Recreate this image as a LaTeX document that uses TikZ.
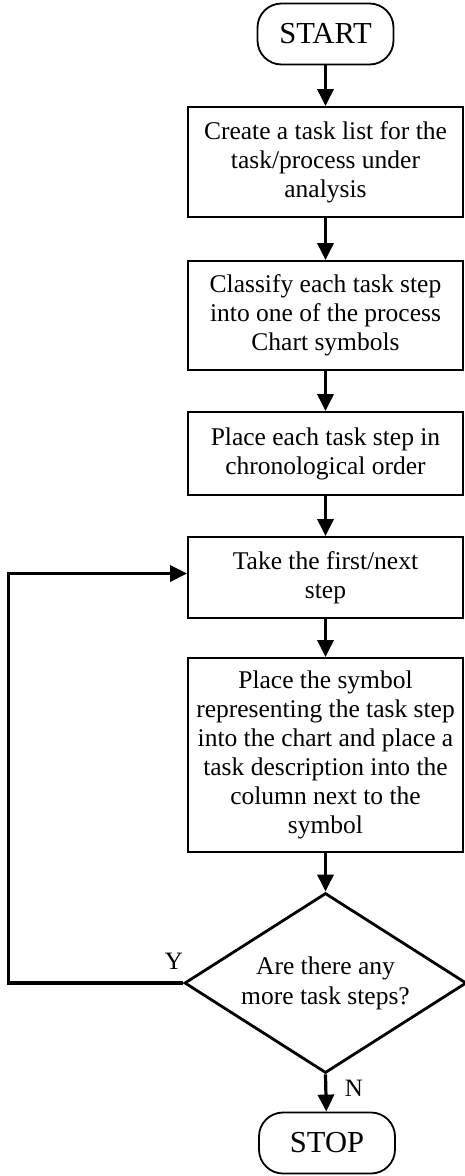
\documentclass[tikz,border=0pt]{standalone}
\usepackage{fontspec}
\setmainfont{Liberation Serif}
\usetikzlibrary{shapes.geometric,arrows.meta,calc}
\begin{document}
\begin{tikzpicture}[x=1pt,y=-1pt,
  every node/.style={inner sep=0pt},
  stepbox/.style={draw,line width=1.8pt,minimum width=275pt,align=center,
    font=\fontsize{25.5}{29}\selectfont},
  term/.style={draw,line width=1.8pt,rounded corners=24pt,minimum width=136pt,
    minimum height=61pt,font=\fontsize{30.5}{34}\selectfont},
  flow/.style={line width=3.2pt,-{Triangle[length=17pt,width=16pt]}},
  lbl/.style={font=\fontsize{25}{28}\selectfont}]
\useasboundingbox (0,0) rectangle (465,1176);

% terminals
\node[term] (start) at (325.5,34) {START};
\node[term] (stop)  at (327,1143) {STOP};

% process steps
\node[stepbox,minimum height=110pt] (b1) at (325.5,162)
  {Create a task list for the\\task/process under\\analysis};
\node[stepbox,minimum height=109pt] (b2) at (325.5,315.5)
  {Classify each task step\\into one of the process\\Chart symbols};
\node[stepbox,minimum height=83pt] (b3) at (325.5,453.5)
  {Place each task step in\\chronological order};
\node[stepbox,minimum height=81pt] (b4) at (325.5,577.5)
  {Take the first/next\\step};
\node[stepbox,minimum height=194pt] (b5) at (325.5,755)
  {Place the symbol\\representing the task step\\into the chart and place a\\task description into the\\column next to the\\symbol};

% decision
\node[draw,diamond,aspect=1.55,minimum width=282pt,minimum height=180pt,
  line width=2.8pt,align=center,font=\fontsize{25.5}{30}\selectfont] (dec) at (325.5,983)
  {Are there any\\more task steps?};

% connectors
\draw[flow] (start) -- (b1);
\draw[flow] (b1) -- (b2);
\draw[flow] (b2) -- (b3);
\draw[flow] (b3) -- (b4);
\draw[flow] (b4) -- (b5);
\draw[flow] (b5) -- (dec);
\draw[flow] (dec.south) -- (stop);
\draw[flow] (dec.west) -- ++(-175,0) |- ($(b4.west)+(0,-4)$);

% branch labels
\node[lbl] (ylab) at (174,961) {Y};
\node[lbl] (nlab) at (354,1088) {N};
\end{tikzpicture}
\end{document}
